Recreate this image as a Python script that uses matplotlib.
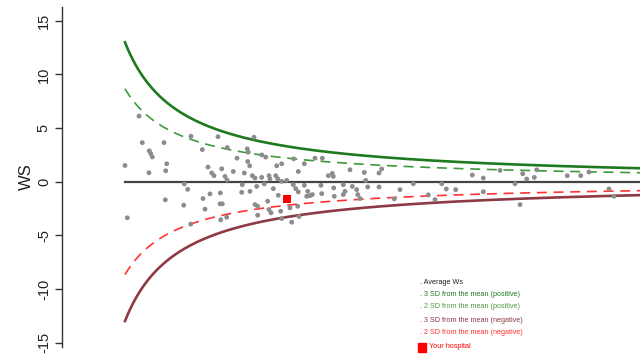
import numpy as np
import matplotlib
matplotlib.use("Agg")
import matplotlib.pyplot as plt

plt.rcParams['font.family'] = ['Liberation Sans', 'DejaVu Sans']

# Hospital volume (arbitrary units) and W-score for each hospital
volume = [6.9, 7.23, 9.4, 7.93, 8.07, 8.23, 5.5, 9.67, 7.9, 9.57, 12.1, 13.23, 14.8, 15.73,
          16.7, 13.8, 14.17, 14.4, 15.17, 16.33, 15.5, 15.7, 11.43, 11.77, 14.0, 15.03, 13.3,
          9.53, 11.37, 13.5, 15.0, 15.23, 5.73, 15.07, 15.67, 12.07,
          18.4, 17.73, 17.83, 19.17, 19.57, 22.37, 23.43, 24.5, 25.23, 20.67, 21.17, 17.77,
          17.97, 17.43, 18.23, 18.5, 19.17, 19.9, 20.0, 20.57, 20.77, 22.83, 25.83, 26.23,
          26.33, 28.0, 21.17, 21.67, 22.33, 17.23, 17.17, 18.0, 18.67, 19.43, 20.33, 22.57,
          22.83, 23.43, 23.77, 24.23, 24.0, 25.1, 25.17, 26.37, 26.43, 27.33, 27.5, 27.33,
          28.23, 20.83, 18.5, 18.77, 19.77, 19.9, 20.1, 21.07, 22.0, 22.77, 18.77, 21.17,
          22.17, 22.9, 23.67,
          29.43, 29.57, 29.77, 30.9, 31.17, 30.9, 28.67, 28.77, 29.0, 32.43, 33.0, 34.33,
          35.83, 36.5, 37.17, 37.63, 38.57, 40.23, 41.33, 41.33,
          43.0, 44.5, 45.27, 45.67, 46.43, 46.67, 45.0, 49.73, 51.07, 51.9, 53.9, 54.4]
ws = [6.11, 3.64, 3.64, 2.87, 2.62, 2.31, 1.51, 1.67, 0.83, 1.02, 4.23, 2.99, 4.19, 3.18,
      2.19, 1.36, 0.81, 0.56, 1.2, 0.95, 0.49, 0.16, -0.21, -0.71, -1.14, -1.05, -1.57,
      -1.69, -2.19, -2.56, -2.06, -2.06, -3.36, -3.55, -3.31, -3.95,
      4.14, 3.06, 2.75, 2.5, 2.29, 2.13, 1.67, 2.19, 2.19, 1.48, 1.67, 1.88,
      1.48, 0.81, 0.56, 0.34, 0.4, 0.56, 0.25, 0.56, 0.28, 0.95, 0.56, 0.77,
      0.49, 1.11, 0.03, 0.12, -0.28, -0.28, -0.99, -0.9, -0.44, -0.21, -0.65, -0.65,
      -0.95, -0.34, -0.9, -1.2, -1.3, -0.34, -1.11, -0.58, -1.36, -0.28, -0.9, -1.2,
      -0.44, -1.27, -2.13, -2.29, -1.82, -2.59, -2.9, -2.75, -2.44, -2.29, -3.12, -3.43,
      -3.77, -3.24, -1.36,
      0.86, 0.12, -0.49, 0.81, 1.18, -0.49, -0.74, -1.2, -1.57, -1.6, -0.74, -0.19,
      -1.23, -1.67, -0.19, -0.68, -0.74, 0.62, 0.34, -0.93,
      1.05, -0.19, 0.74, 0.25, 0.4, 1.11, -2.13, 0.56, 0.56, 0.9, -0.68, -1.36]

# The highlighted hospital
my_volume = 21.73
my_ws = -1.6

# Control limits: mean +/- z * sd / volume
mean_ws = 0.0
sd_scale = 23.8
z_levels = [3, 2]

legend_labels = [". Average Ws",
                 ". 3 SD from the mean (positive)",
                 ". 2 SD from the mean (positive)",
                 ". 3 SD from the mean (negative)",
                 ". 2 SD from the mean (negative)",
                 "Your hospital"]

fig = plt.figure(figsize=(6.4, 3.6), dpi=100)
ax = fig.add_axes([62 / 640, 1 - 346.7 / 360, 1 - 62 / 640, 340 / 360])

n = np.linspace(5.5, 60, 400)
c_green3, c_green2 = '#1f7a1f', '#3c9a3c'
c_red3, c_red2 = '#8e3a44', '#ff3333'

ax.plot(n, mean_ws + z_levels[0] * sd_scale / n, color=c_green3, lw=1.9, zorder=2)
ax.plot(n, mean_ws + z_levels[1] * sd_scale / n, color=c_green2, lw=1.2,
        dashes=(6, 4), zorder=2)
ax.plot(n, mean_ws - z_levels[0] * sd_scale / n, color=c_red3, lw=1.9, zorder=2)
ax.plot(n, mean_ws - z_levels[1] * sd_scale / n, color=c_red2, lw=1.2,
        dashes=(6, 4), zorder=2)
ax.plot([5.5, 60], [mean_ws, mean_ws], color='#444444', lw=1.6, zorder=1)

ax.scatter(volume, ws, s=12, color='#8c8c8c', edgecolors='none', zorder=3)
ax.scatter([my_volume], [my_ws], s=34, marker='s', color='#ff0000',
           edgecolors='none', zorder=4)

ax.set_xlim(-0.8, 57.0)
ax.set_ylim(-15.37, 16.3)
ax.set_yticks([-15, -10, -5, 0, 5, 10, 15])
ax.set_yticklabels(['-15', '-10', '-5', '0', '5', '10', '15'], rotation=90,
                   va='center', fontsize=10.5, color='#222222')
ax.tick_params(axis='y', length=5, width=1.0, color='#333333', pad=3)
ax.set_xticks([])
for side in ['top', 'right', 'bottom']:
    ax.spines[side].set_visible(False)
ax.spines['left'].set_color('#333333')
ax.spines['left'].set_linewidth(1.0)
ax.set_ylabel('WS', fontsize=12, color='#222222', labelpad=2)

# Legend drawn as coloured text lines
leg_colors = ['#222222', c_green3, '#4e9a3e', c_red3, c_red2, '#ff0000']
leg_y = [282, 294, 307, 321, 333, 347]
for lab, col, yp in zip(legend_labels, leg_colors, leg_y):
    xp = 429 if lab == "Your hospital" else 420
    fig.text(xp / 640, 1 - yp / 360, lab, color=col, fontsize=5.2, va='center', ha='left')
fig.add_artist(plt.Rectangle((418 / 640, 1 - 352 / 360), 8 / 640, 9 / 360,
                             color='#ff0000', transform=fig.transFigure))

fig.savefig('out.png', dpi=100)
